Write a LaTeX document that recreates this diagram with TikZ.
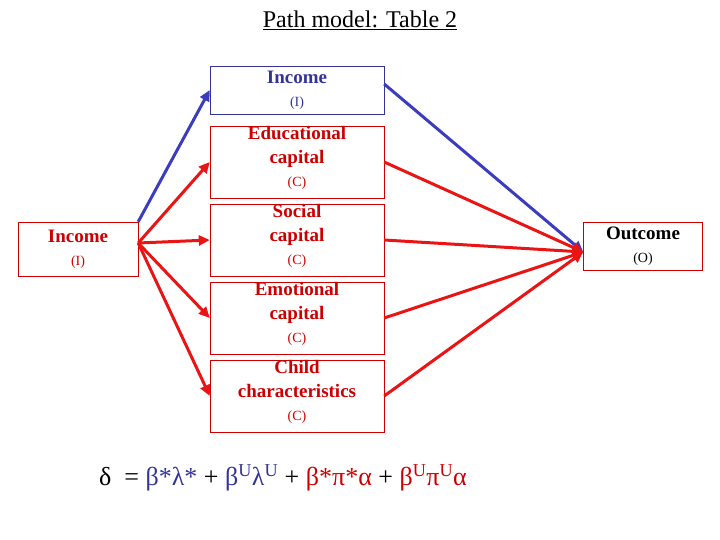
\documentclass[tikz,border=0pt]{standalone}
\usepackage{fontspec}
\setmainfont{Liberation Serif}
\usetikzlibrary{arrows.meta, positioning}
\definecolor{dblue}{RGB}{51,51,153}
\definecolor{lblue}{RGB}{60,60,190}
\definecolor{dred}{RGB}{204,0,0}
\definecolor{lred}{RGB}{235,20,20}
\newcommand{\sub}[1]{\\[-1pt]{\fontsize{14}{16}\selectfont\mdseries #1}}
\begin{document}
\begin{tikzpicture}[x=1pt, y=-1pt,
		box/.style = {rectangle, draw=dred, text=dred, minimum width=174pt, align=center, font=\fontsize{19}{24}\selectfont\bfseries, inner sep=0pt},
		smallbox/.style = {box, minimum width=120pt},
		arrow/.style = {draw, -{Triangle[length=11pt, width=10pt]}, line width=3pt, lred},
		barrow/.style = {arrow, lblue}
		]
		\useasboundingbox (0,0) rectangle (720,540);
		
		% Title
		\node (title) at (360,20) {\fontsize{24}{26}\selectfont\underline{Path model: Table 2}};
		
		% Mediators
		\node[box, draw=dblue, text=dblue, minimum height=48pt] (Inc) at (297,90) {Income\sub{(I)}};
		\node[box, minimum height=72pt] (Edu) at (297,162) {\\[-20pt]Educational\\capital\sub{(C)}};
		\node[box, minimum height=72pt] (Soc) at (297,240) {\\[-20pt]Social\\capital\sub{(C)}};
		\node[box, minimum height=72pt] (Emo) at (297,318) {\\[-20pt]Emotional\\capital\sub{(C)}};
		\node[box, minimum height=72pt] (Chi) at (297,396) {\\[-20pt]Child\\characteristics\sub{(C)}};
		
		% Ends
		\node[smallbox, minimum height=54pt] (Src) at (78,249) {Income\sub{(I)}};
		\node[smallbox, minimum width=119pt, minimum height=48pt, text=black] (Out) at (643,246) {Outcome\sub{(O)}};
		
		% Formula
		\node (eq) at (283,478) {\fontsize{26}{30}\selectfont δ \ = {\color{dblue}β*λ*} + {\color{dblue}β\textsuperscript{U}λ\textsuperscript{U}} + {\color{dred}β*π*α} + {\color{dred}β\textsuperscript{U}π\textsuperscript{U}α}};
		
		% Arrows
		\draw[barrow] (Src.north east) -- (Inc.west);
		\draw[arrow] ([yshift=6pt]Src.east) -- (Edu.west);
		\draw[arrow] ([yshift=6pt]Src.east) -- (Soc.west);
		\draw[arrow] ([yshift=6pt]Src.east) -- (Emo.west);
		\draw[arrow] ([yshift=6pt]Src.east) -- (Chi.west);
		\draw[barrow] ([yshift=6pt]Inc.east) -- ([yshift=-6pt]Out.west);
		\draw[arrow] (Edu.east) -- ([yshift=-6pt]Out.west);
		\draw[arrow] (Soc.east) -- ([yshift=-6pt]Out.west);
		\draw[arrow] (Emo.east) -- ([yshift=-6pt]Out.west);
		\draw[arrow] (Chi.east) -- ([yshift=-6pt]Out.west);
		
	\end{tikzpicture}
\end{document}
